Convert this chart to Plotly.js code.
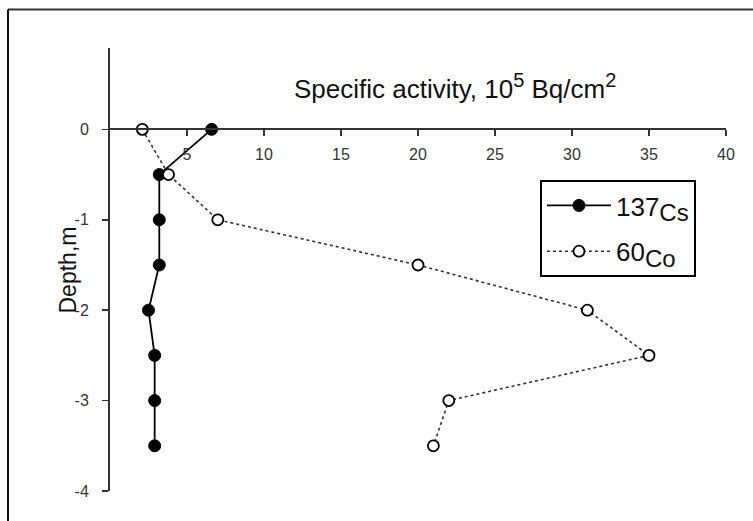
<!DOCTYPE html>
<html>
<head>
<meta charset="utf-8">
<script src="https://cdn.plot.ly/plotly-3.0.1.min.js"></script>
<style>html,body{margin:0;padding:0;background:#fff;}#chart{width:753px;height:521px;}</style>
</head>
<body>
<div id="chart"></div>
<script>
const depth = [0, -0.5, -1, -1.5, -2, -2.5, -3, -3.5];
const cs137 = [6.6, 3.2, 3.2, 3.2, 2.5, 2.9, 2.9, 2.9];
const co60 = [2.1, 3.8, 7.0, 20.0, 31.0, 35.0, 22.0, 21.0];
const xTicks = [5, 10, 15, 20, 25, 30, 35, 40];
const yTicks = [0, -1, -2, -3, -4];
const yTickText = ['0', '-1', '-2', '-3', '-4'];
const seriesNames = [
  '137<sub><span style="font-size:24px">Cs</span></sub>',
  '60<sub><span style="font-size:24px">Co</span></sub>'
];
const titleText = 'Specific activity, 10<sup><span style="font-size:20px">5</span></sup> Bq/cm<sup><span style="font-size:20px">2</span></sup>';
const yTitle = 'Depth,m';

const FONT = 'Liberation Sans, Arial, sans-serif';

const traces = [
  {
    x: cs137, y: depth, name: seriesNames[0], type: 'scatter', mode: 'lines+markers',
    legendgroup: 'cs',
    line: {color: '#000', width: 1.8},
    marker: {color: '#000', size: 12, line: {color: '#000', width: 1}},
    cliponaxis: false
  },
  {
    x: co60, y: depth, name: seriesNames[1], type: 'scatter', mode: 'lines+markers',
    legendgroup: 'co',
    line: {color: '#333', width: 1.6, dash: 'dot'},
    marker: {color: '#fff', size: 11, line: {color: '#000', width: 1.8}},
    cliponaxis: false
  }
];

const layout = {
  width: 753, height: 521,
  margin: {l: 110, r: 27, t: 47.5, b: 30},
  paper_bgcolor: '#fff', plot_bgcolor: 'rgba(0,0,0,0)',
  font: {family: FONT, color: '#222', size: 16},
  showlegend: true,
  legend: {
    x: 0.698, y: 0.702, xanchor: 'left', yanchor: 'top',
    bordercolor: '#000', borderwidth: 2, bgcolor: '#fff',
    font: {family: FONT, size: 26, color: '#111'},
    itemwidth: 64, tracegroupgap: 9
  },
  xaxis: {
    range: [0, 40], anchor: 'free', position: 4 / 4.9,
    tickvals: xTicks, ticks: 'outside', ticklen: 6, tickwidth: 1.5, tickcolor: '#333',
    ticklabelstandoff: 4,
    showline: true, linecolor: '#333', linewidth: 2,
    showgrid: false, zeroline: false,
    tickfont: {family: FONT, size: 16, color: '#333'}
  },
  yaxis: {
    range: [-4, 0.9],
    tickvals: yTicks, ticktext: yTickText, ticks: 'outside', ticklen: 6, tickwidth: 1.5, tickcolor: '#333',
    ticklabelstandoff: 10,
    showline: true, linecolor: '#333', linewidth: 2,
    showgrid: false, zeroline: false,
    tickfont: {family: FONT, size: 16, color: '#333'}
  },
  annotations: [
    {
      text: titleText, xref: 'paper', yref: 'paper', x: 0.56, y: 0.913,
      xanchor: 'center', yanchor: 'middle', showarrow: false,
      font: {family: FONT, size: 26, color: '#111'}
    },
    {
      text: yTitle, xref: 'paper', yref: 'paper', x: -0.068, y: 0.498,
      xanchor: 'center', yanchor: 'middle', showarrow: false, textangle: -90,
      font: {family: FONT, size: 23, color: '#111'}
    }
  ],
  shapes: [
    {type: 'line', xref: 'paper', yref: 'paper', x0: -0.1656, x1: 1.1, y0: 1.087, y1: 1.087, line: {color: '#333', width: 2}},
    {type: 'line', xref: 'paper', yref: 'paper', x0: -0.1656, x1: -0.1656, y0: 1.087, y1: -0.1, line: {color: '#111', width: 2}}
  ]
};

Plotly.newPlot('chart', traces, layout, {displayModeBar: false, staticPlot: true});
</script>
</body>
</html>
